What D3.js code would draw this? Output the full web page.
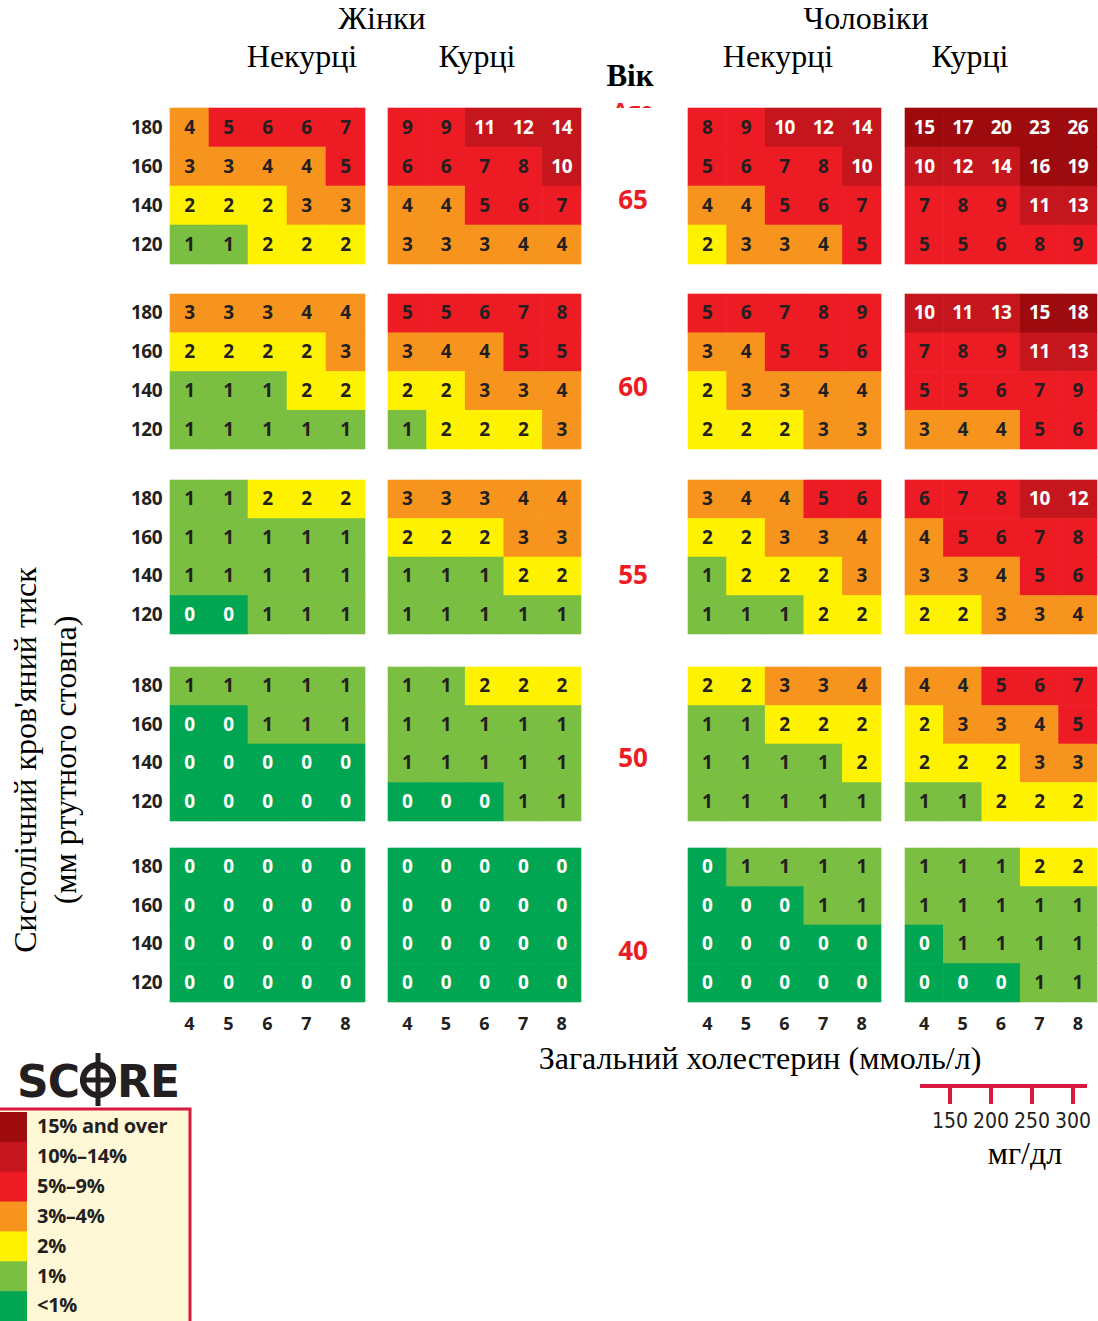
<!DOCTYPE html>
<html><head><meta charset="utf-8">
<script src="https://cdn.jsdelivr.net/npm/d3@7"></script>
<style>body{margin:0;background:#fff}svg{display:block}</style>
</head><body>
<svg id="c" width="1098" height="1321"></svg>
<script>
// ---------- DATA ----------
const ages = [65, 60, 55, 50, 40];
const pressures = [180, 160, 140, 120];
const cholesterol = [4, 5, 6, 7, 8];
const groups = ["womenNonSmoker", "womenSmoker", "menNonSmoker", "menSmoker"];
const mgdlTicks = [150, 200, 250, 300];
const legendLabels = ["15% and over", "10%\u201314%", "5%\u20139%", "3%\u20134%", "2%", "1%", "<1%"];

// rows: 180,160,140,120 ; cols: chol 4..8
const womenNonSmoker = {
  65: [[4,5,6,6,7],[3,3,4,4,5],[2,2,2,3,3],[1,1,2,2,2]],
  60: [[3,3,3,4,4],[2,2,2,2,3],[1,1,1,2,2],[1,1,1,1,1]],
  55: [[1,1,2,2,2],[1,1,1,1,1],[1,1,1,1,1],[0,0,1,1,1]],
  50: [[1,1,1,1,1],[0,0,1,1,1],[0,0,0,0,0],[0,0,0,0,0]],
  40: [[0,0,0,0,0],[0,0,0,0,0],[0,0,0,0,0],[0,0,0,0,0]]
};
const womenSmoker = {
  65: [[9,9,11,12,14],[6,6,7,8,10],[4,4,5,6,7],[3,3,3,4,4]],
  60: [[5,5,6,7,8],[3,4,4,5,5],[2,2,3,3,4],[1,2,2,2,3]],
  55: [[3,3,3,4,4],[2,2,2,3,3],[1,1,1,2,2],[1,1,1,1,1]],
  50: [[1,1,2,2,2],[1,1,1,1,1],[1,1,1,1,1],[0,0,0,1,1]],
  40: [[0,0,0,0,0],[0,0,0,0,0],[0,0,0,0,0],[0,0,0,0,0]]
};
const menNonSmoker = {
  65: [[8,9,10,12,14],[5,6,7,8,10],[4,4,5,6,7],[2,3,3,4,5]],
  60: [[5,6,7,8,9],[3,4,5,5,6],[2,3,3,4,4],[2,2,2,3,3]],
  55: [[3,4,4,5,6],[2,2,3,3,4],[1,2,2,2,3],[1,1,1,2,2]],
  50: [[2,2,3,3,4],[1,1,2,2,2],[1,1,1,1,2],[1,1,1,1,1]],
  40: [[0,1,1,1,1],[0,0,0,1,1],[0,0,0,0,0],[0,0,0,0,0]]
};
const menSmoker = {
  65: [[15,17,20,23,26],[10,12,14,16,19],[7,8,9,11,13],[5,5,6,8,9]],
  60: [[10,11,13,15,18],[7,8,9,11,13],[5,5,6,7,9],[3,4,4,5,6]],
  55: [[6,7,8,10,12],[4,5,6,7,8],[3,3,4,5,6],[2,2,3,3,4]],
  50: [[4,4,5,6,7],[2,3,3,4,5],[2,2,2,3,3],[1,1,2,2,2]],
  40: [[1,1,1,2,2],[1,1,1,1,1],[0,1,1,1,1],[0,0,0,1,1]]
};
const tables = {womenNonSmoker, womenSmoker, menNonSmoker, menSmoker};

// ---------- STYLE / LAYOUT ----------
const riskThresholds = [1, 2, 3, 5, 10, 15];
const riskColors = ["#00a651", "#7abf42", "#fff200", "#f7941d", "#ed1c24", "#c4161c", "#9d0b0f"];
const color = d3.scaleThreshold().domain(riskThresholds).range(riskColors);
const textColor = v => (v === 0 || v >= 10) ? "#ffffff" : "#231f20";

const panelX = {womenNonSmoker:[170,365], womenSmoker:[388,581], menNonSmoker:[688,881], menSmoker:[905,1097]};
const ageY = {65:[108,264], 60:[294,449], 55:[480,634], 50:[667,821], 40:[848,1002]};
const ageLabelY = {65:209, 60:396, 55:584, 50:767, 40:960};

const svg = d3.select("#c");
const sansBold = "'Open Sans', 'DejaVu Sans', sans-serif";
const serif = "'Liberation Serif', 'DejaVu Serif', serif";

const xScales = {};
groups.forEach(g => { xScales[g] = d3.scaleBand().domain(cholesterol).range(panelX[g]); });

// partially hidden "Age" label behind the Ukrainian header
svg.append("clipPath").attr("id", "ageclip").append("rect")
  .attr("x", 590).attr("y", 100).attr("width", 90).attr("height", 8);
svg.append("text").attr("x", 633).attr("y", 118).attr("text-anchor", "middle")
  .attr("clip-path", "url(#ageclip)").attr("font-family", sansBold).attr("font-weight", 700)
  .attr("font-size", 22).attr("fill", "#ed1c24").text("Age");

ages.forEach(age => {
  const y = d3.scaleBand().domain(pressures).range(ageY[age]);
  groups.forEach(g => {
    const x = xScales[g];
    const cells = [];
    tables[g][age].forEach((row, ri) => row.forEach((v, ci) => cells.push({p: pressures[ri], c: cholesterol[ci], v})));
    const gg = svg.append("g");
    gg.selectAll("rect").data(cells).join("rect")
      .attr("x", d => x(d.c) - 0.3).attr("y", d => y(d.p) - 0.3)
      .attr("width", x.bandwidth() + 0.6).attr("height", y.bandwidth() + 0.6)
      .attr("fill", d => color(d.v));
    gg.selectAll("text").data(cells).join("text")
      .attr("x", d => x(d.c) + x.bandwidth() / 2)
      .attr("y", d => y(d.p) + y.bandwidth() / 2 + 1)
      .attr("text-anchor", "middle").attr("dominant-baseline", "middle")
      .attr("font-family", sansBold).attr("font-weight", 700).attr("font-size", 19)
      .attr("letter-spacing", -0.5)
      .attr("fill", d => textColor(d.v))
      .text(d => d.v);
  });
  const axis = d3.axisLeft(y).tickSize(0).tickPadding(8);
  const ax = svg.append("g").attr("transform", "translate(170,0)").call(axis);
  ax.select(".domain").remove();
  ax.selectAll("text").attr("font-family", sansBold).attr("font-weight", 700)
    .attr("font-size", 19).attr("fill", "#231f20").attr("letter-spacing", -0.5);
  svg.append("text").attr("x", 633).attr("y", ageLabelY[age])
    .attr("text-anchor", "middle").attr("font-family", sansBold).attr("font-weight", 700)
    .attr("font-size", 26).attr("fill", "#ed1c24").text(age);
});

groups.forEach(g => {
  const ax = svg.append("g").attr("transform", "translate(0,1002)")
    .call(d3.axisBottom(xScales[g]).tickSize(0).tickPadding(15));
  ax.select(".domain").remove();
  ax.selectAll("text").attr("font-family", sansBold).attr("font-weight", 700)
    .attr("font-size", 18).attr("fill", "#231f20");
});

const hdr = (t, x, y, size, weight) => svg.append("text").attr("x", x).attr("y", y)
  .attr("text-anchor", "middle").attr("font-family", serif).attr("font-size", size)
  .attr("font-weight", weight || 400).attr("fill", "#000").text(t);
hdr("Жінки", 382, 29, 32);
hdr("Некурці", 302, 67, 32);
hdr("Курці", 477, 67, 32);
hdr("Чоловіки", 866, 29, 32);
hdr("Некурці", 778, 67, 32);
hdr("Курці", 970, 67, 32);
hdr("Вік", 630, 86, 31, 700);
hdr("Загальний холестерин (ммоль/л)", 760, 1069, 32);
hdr("мг/дл", 1025, 1164, 32);

const yt = svg.append("text").attr("transform", "translate(0,760) rotate(-90)")
  .attr("text-anchor", "middle").attr("font-family", serif).attr("font-size", 32).attr("fill", "#000");
yt.append("tspan").attr("x", 0).attr("y", 36).text("Систолічний кров'яний тиск");
yt.append("tspan").attr("x", 0).attr("y", 76).text("(мм ртутного стовпа)");

const mg = d3.scaleLinear().domain([150, 300]).range([950, 1073]);
svg.append("line").attr("x1", 920).attr("x2", 1087).attr("y1", 1086).attr("y2", 1086)
  .attr("stroke", "#d7193f").attr("stroke-width", 4);
svg.selectAll(".mgt").data(mgdlTicks).join("line").attr("class", "mgt")
  .attr("x1", d => mg(d)).attr("x2", d => mg(d)).attr("y1", 1086).attr("y2", 1104)
  .attr("stroke", "#d7193f").attr("stroke-width", 4);
svg.selectAll(".mgl").data(mgdlTicks).join("text").attr("class", "mgl")
  .attr("x", d => mg(d)).attr("y", 1128).attr("text-anchor", "middle")
  .attr("font-family", "'DejaVu Sans Condensed', 'DejaVu Sans', sans-serif").attr("font-stretch", "condensed")
  .attr("font-size", 21).attr("fill", "#231f20").text(d => d);

const logoFont = "'DejaVu Sans', 'Open Sans', sans-serif";
svg.append("text").attr("x", 17).attr("y", 1097).attr("font-family", logoFont).attr("font-weight", 700)
  .attr("font-size", 44).attr("fill", "#231f20").attr("letter-spacing", -1).text("SC");
svg.append("circle").attr("cx", 98).attr("cy", 1080).attr("r", 15).attr("fill", "none")
  .attr("stroke", "#231f20").attr("stroke-width", 6);
svg.append("line").attr("x1", 98).attr("x2", 98).attr("y1", 1053).attr("y2", 1106)
  .attr("stroke", "#231f20").attr("stroke-width", 5);
svg.append("line").attr("x1", 80).attr("x2", 116).attr("y1", 1080).attr("y2", 1080)
  .attr("stroke", "#231f20").attr("stroke-width", 5);
svg.append("text").attr("x", 117).attr("y", 1097).attr("font-family", logoFont).attr("font-weight", 700)
  .attr("font-size", 44).attr("fill", "#231f20").attr("letter-spacing", -1).text("RE");

svg.append("rect").attr("x", -2).attr("y", 1109).attr("width", 192).attr("height", 216)
  .attr("fill", "#fff8d6").attr("stroke", "#d7193f").attr("stroke-width", 3);
const legendColors = riskColors.slice().reverse();
const ly = d3.scaleBand().domain(legendLabels).range([1112, 1321]);
svg.selectAll(".lgs").data(legendLabels).join("rect").attr("class", "lgs")
  .attr("x", 0).attr("y", d => ly(d)).attr("width", 27).attr("height", ly.bandwidth() + 0.5)
  .attr("fill", (d, i) => legendColors[i]);
svg.selectAll(".lgt").data(legendLabels).join("text").attr("class", "lgt")
  .attr("x", 37).attr("y", d => ly(d) + ly.bandwidth() / 2 + 1).attr("dominant-baseline", "middle")
  .attr("font-family", sansBold).attr("font-weight", 700).attr("font-size", 20)
  .attr("letter-spacing", -0.3).attr("fill", "#231f20").text(d => d);
</script>
</body></html>
